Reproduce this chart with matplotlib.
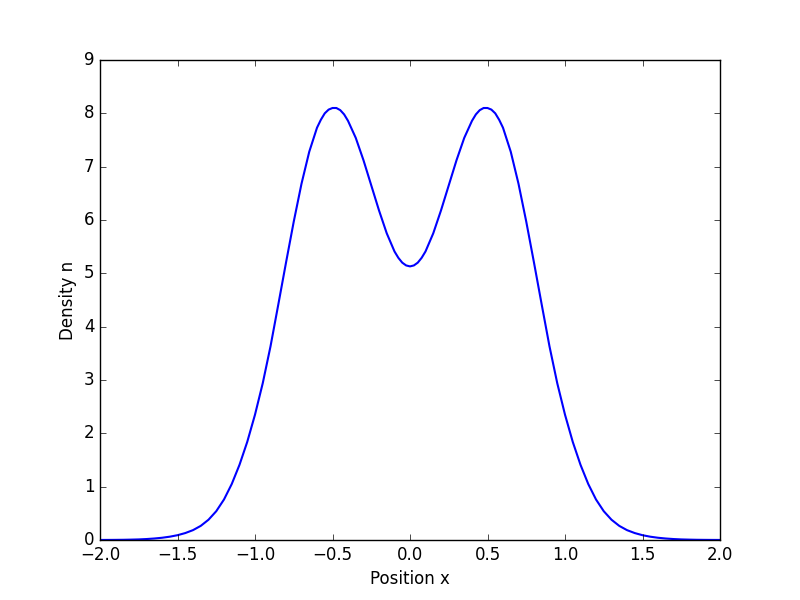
import numpy as np
import matplotlib
matplotlib.use('Agg')
import matplotlib.pyplot as plt

# density, left half (denser near the peak and the dip)
x_left = [-2.00, -1.95, -1.90, -1.85, -1.80, -1.75, -1.70, -1.65, -1.60, -1.55,
          -1.50, -1.45, -1.40, -1.35, -1.30, -1.25, -1.20, -1.15, -1.10, -1.05,
          -1.00, -0.95, -0.90, -0.85, -0.80, -0.75, -0.70, -0.65, -0.60, -0.575,
          -0.55, -0.525, -0.50, -0.475, -0.45, -0.425, -0.40, -0.35, -0.30, -0.25,
          -0.20, -0.15, -0.10, -0.075, -0.05, -0.025, 0.00]
n_left = [0.001, 0.0015, 0.0025, 0.004, 0.007, 0.011, 0.018, 0.028, 0.042, 0.062,
          0.09, 0.13, 0.185, 0.265, 0.38, 0.54, 0.76, 1.05, 1.41, 1.84,
          2.35, 2.94, 3.63, 4.41, 5.20, 5.97, 6.68, 7.28, 7.73, 7.88,
          8.00, 8.07, 8.10, 8.10, 8.06, 7.98, 7.86, 7.54, 7.12, 6.65,
          6.18, 5.75, 5.41, 5.29, 5.20, 5.148, 5.13]
# right half, the curve is symmetric
x_right = [0.025, 0.05, 0.075, 0.10, 0.15, 0.20, 0.25, 0.30, 0.35, 0.40,
           0.425, 0.45, 0.475, 0.50, 0.525, 0.55, 0.575, 0.60, 0.65, 0.70,
           0.75, 0.80, 0.85, 0.90, 0.95, 1.00, 1.05, 1.10, 1.15, 1.20,
           1.25, 1.30, 1.35, 1.40, 1.45, 1.50, 1.55, 1.60, 1.65, 1.70,
           1.75, 1.80, 1.85, 1.90, 1.95, 2.00]
n_right = [5.148, 5.20, 5.29, 5.41, 5.75, 6.18, 6.65, 7.12, 7.54, 7.86,
           7.98, 8.06, 8.10, 8.10, 8.07, 8.00, 7.88, 7.73, 7.28, 6.68,
           5.97, 5.20, 4.41, 3.63, 2.94, 2.35, 1.84, 1.41, 1.05, 0.76,
           0.54, 0.38, 0.265, 0.185, 0.13, 0.09, 0.062, 0.042, 0.028, 0.018,
           0.011, 0.007, 0.004, 0.0025, 0.0015, 0.001]

x = np.array(x_left + x_right)
n = np.array(n_left + n_right)

plt.style.use('classic')
fig = plt.figure(figsize=(8, 6), dpi=100)
plt.plot(x, n, 'b', linewidth=1.5)
plt.xlim(-2, 2)
plt.ylim(0, 9)
plt.xlabel('Position x')
plt.ylabel('Density n')
plt.savefig('out.png', dpi=100)
